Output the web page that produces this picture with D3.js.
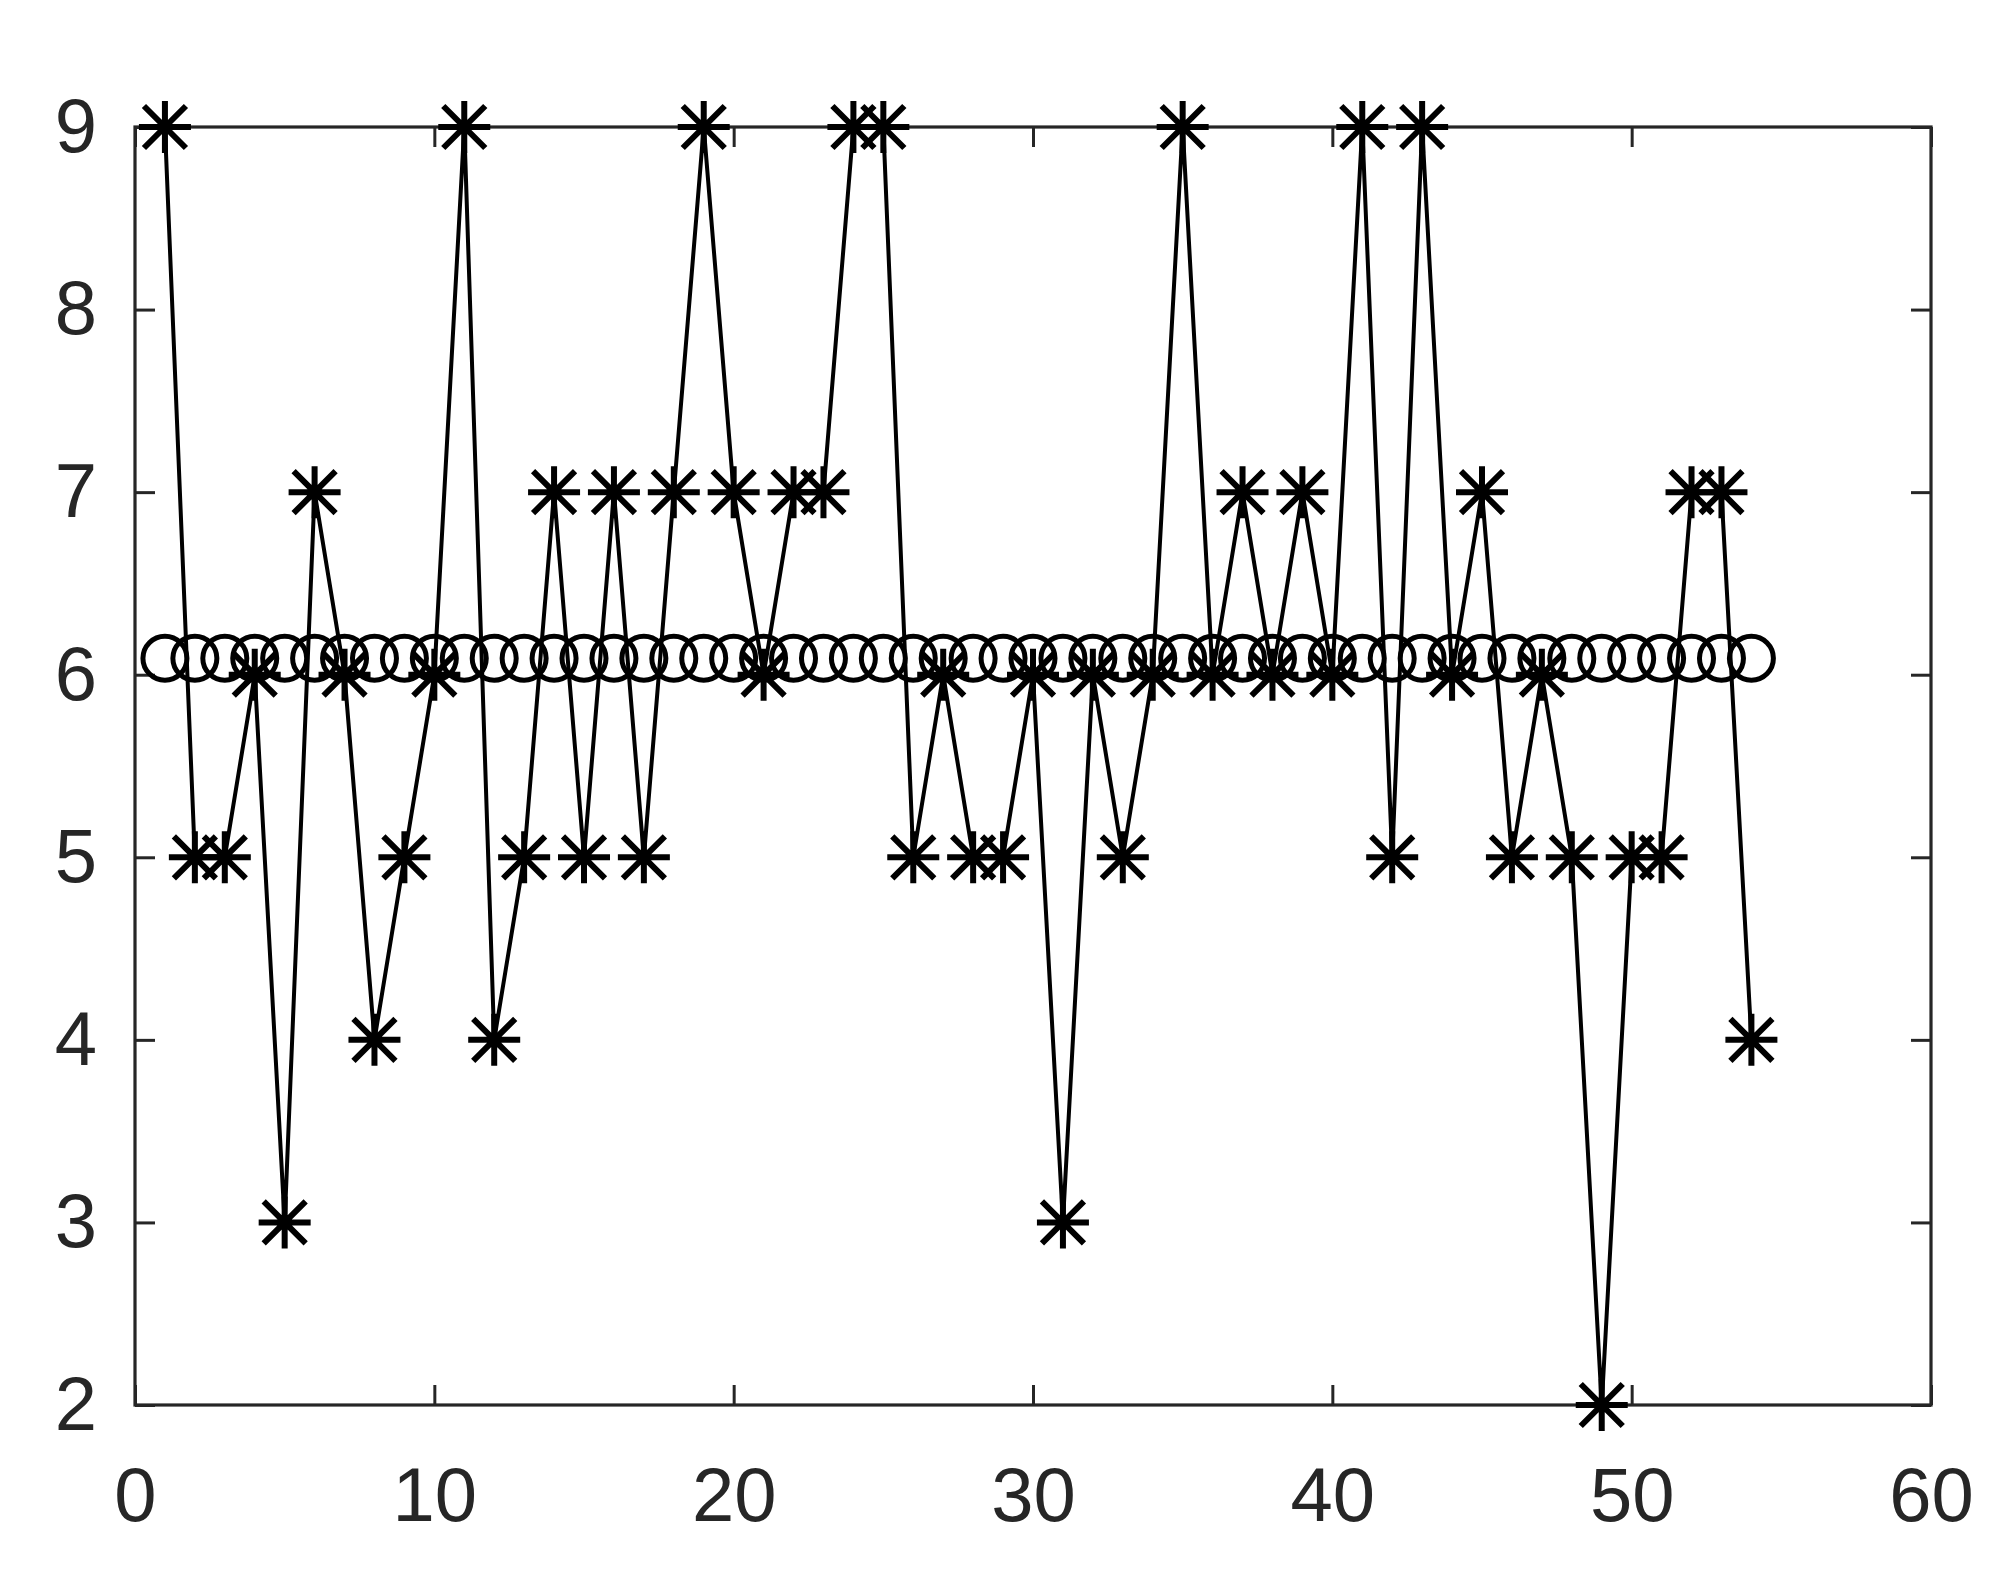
<!DOCTYPE html>
<html>
<head>
<meta charset="utf-8">
<script src="https://cdn.jsdelivr.net/npm/d3@7"></script>
<style>
  body { margin: 0; background: #fff; }
  svg { display: block; }
  .tick text { font-family: "Liberation Sans", Arial, sans-serif; font-size: 76px; fill: #262626; }
</style>
</head>
<body>
<div class="vis"></div>
<script>
// x positions (sample index)
const xValues = [1, 2, 3, 4, 5, 6, 7, 8, 9, 10, 11, 12, 13, 14, 15, 16, 17, 18,
  19, 20, 21, 22, 23, 24, 25, 26, 27, 28, 29, 30, 31, 32, 33, 34, 35, 36,
  37, 38, 39, 40, 41, 42, 43, 44, 45, 46, 47, 48, 49, 50, 51, 52, 53, 54];

// the asterisk series
const starValues = [9, 5, 5, 6, 3, 7, 6, 4, 5, 6, 9, 4, 5, 7, 5, 7, 5, 7,
  9, 7, 6, 7, 7, 9, 9, 5, 6, 5, 5, 6, 3, 6, 5, 6, 9, 6,
  7, 6, 7, 6, 9, 5, 9, 6, 7, 5, 6, 5, 2, 5, 5, 7, 7, 4];

// the circle series (flat, about 6.09)
const circleValues = [6.09, 6.09, 6.09, 6.09, 6.09, 6.09, 6.09, 6.09, 6.09, 6.09,
  6.09, 6.09, 6.09, 6.09, 6.09, 6.09, 6.09, 6.09, 6.09, 6.09,
  6.09, 6.09, 6.09, 6.09, 6.09, 6.09, 6.09, 6.09, 6.09, 6.09,
  6.09, 6.09, 6.09, 6.09, 6.09, 6.09, 6.09, 6.09, 6.09, 6.09,
  6.09, 6.09, 6.09, 6.09, 6.09, 6.09, 6.09, 6.09, 6.09, 6.09,
  6.09, 6.09, 6.09, 6.09];

const xTicks = [0, 10, 20, 30, 40, 50, 60];
const yTicks = [2, 3, 4, 5, 6, 7, 8, 9];

const stars = xValues.map((x, i) => ({ x: x, y: starValues[i] }));
const circles = xValues.map((x, i) => ({ x: x, y: circleValues[i] }));

// chart size
const W = 2000, H = 1581;
const margin = { top: 127, right: 69, bottom: 176, left: 135 };
const width = W - margin.left - margin.right;
const height = H - margin.top - margin.bottom;
const axisColor = "#262626";

const svg = d3.select(".vis")
  .append("svg")
  .attr("width", W)
  .attr("height", H)
  .append("g")
  .attr("transform", "translate(" + margin.left + "," + margin.top + ")");

const xScale = d3.scaleLinear().domain([0, 60]).range([0, width]);
const yScale = d3.scaleLinear().domain([2, 9]).range([height, 0]);

// axes, ticks pointing inwards like matlab
const tickLen = 20;
svg.append("g")
  .attr("transform", "translate(0," + height + ")")
  .call(d3.axisBottom(xScale).tickValues(xTicks).tickFormat(d3.format("d"))
    .tickSizeInner(-tickLen).tickSizeOuter(0).tickPadding(62));
svg.append("g")
  .call(d3.axisLeft(yScale).tickValues(yTicks).tickFormat(d3.format("d"))
    .tickSizeInner(-tickLen).tickSizeOuter(0).tickPadding(38));

// mirrored ticks on top and right
svg.append("g")
  .call(d3.axisTop(xScale).tickValues(xTicks).tickSizeInner(-tickLen).tickSizeOuter(0).tickFormat(""));
svg.append("g")
  .attr("transform", "translate(" + width + ",0)")
  .call(d3.axisRight(yScale).tickValues(yTicks).tickSizeInner(-tickLen).tickSizeOuter(0).tickFormat(""));

svg.selectAll(".domain").remove();
svg.selectAll(".tick line").attr("stroke", axisColor).attr("stroke-width", 3);

// box
svg.append("rect")
  .attr("x", 0).attr("y", 0)
  .attr("width", width).attr("height", height)
  .attr("fill", "none")
  .attr("stroke", axisColor)
  .attr("stroke-width", 3.2);

// circle markers
svg.selectAll("circle.mk")
  .data(circles)
  .enter().append("circle")
  .attr("class", "mk")
  .attr("cx", d => xScale(d.x))
  .attr("cy", d => yScale(d.y))
  .attr("r", 22)
  .attr("fill", "none")
  .attr("stroke", "#000")
  .attr("stroke-width", 5);

// asterisk line
const line = d3.line()
  .x(d => xScale(d.x))
  .y(d => yScale(d.y));

svg.append("path")
  .datum(stars)
  .attr("fill", "none")
  .attr("stroke", "#000")
  .attr("stroke-width", 4)
  .attr("d", line);

// asterisk markers
const a = 26, b = 21;
const starPath = `M${-a},0L${a},0M0,${-a}L0,${a}M${-b},${-b}L${b},${b}M${-b},${b}L${b},${-b}`;
svg.selectAll("path.star")
  .data(stars)
  .enter().append("path")
  .attr("class", "star")
  .attr("transform", d => "translate(" + xScale(d.x) + "," + yScale(d.y) + ")")
  .attr("d", starPath)
  .attr("fill", "none")
  .attr("stroke", "#000")
  .attr("stroke-width", 6);
</script>
</body>
</html>
